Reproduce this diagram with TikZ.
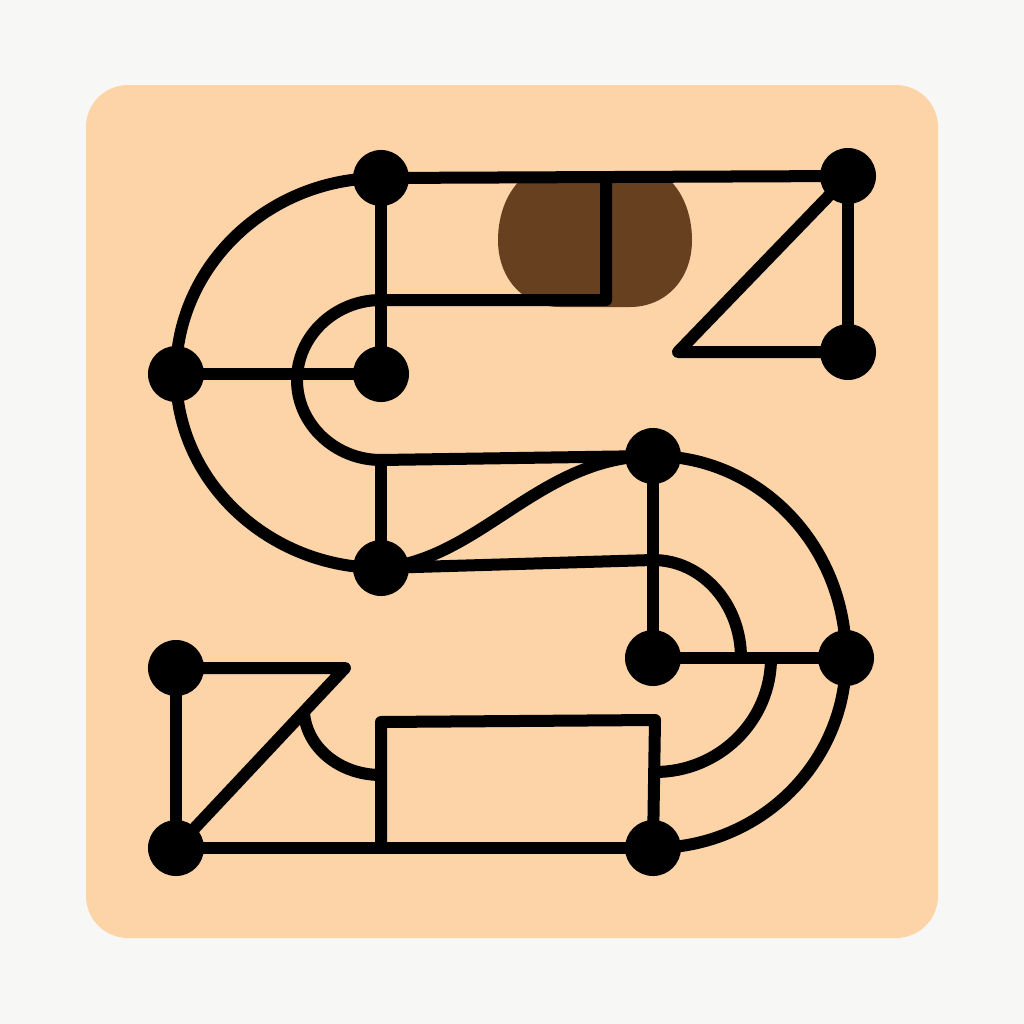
\documentclass[tikz,border=0pt]{standalone}
\usetikzlibrary{backgrounds}
\definecolor{bgc}{HTML}{F7F8F6}
\definecolor{peach}{HTML}{FDD4A8}
\definecolor{brownc}{HTML}{66401F}
\tikzset{
  dot/.style={circle, fill=black, minimum size=0.56cm, inner sep=0pt},
  wire/.style={draw=black, line width=0.12cm, line cap=round, line join=round},
}
\begin{document}
\begin{tikzpicture}[x=0.01cm, y=-0.01cm]
\useasboundingbox (0,0) rectangle (1024,1024);
% dots
\node[dot] (A) at (381,178) {};
\node[dot] (B) at (848,176) {};
\node[dot] (C) at (176,374) {};
\node[dot] (D) at (381,374) {};
\node[dot] (E) at (848,352) {};
\node[dot] (F) at (653,456) {};
\node[dot] (G) at (381,568) {};
\node[dot] (H) at (176,668) {};
\node[dot] (I) at (653,658) {};
\node[dot] (J) at (846,658) {};
\node[dot] (K) at (176,848) {};
\node[dot] (L) at (653,848) {};
% free corners
\coordinate (t1) at (678,352);
\coordinate (t2) at (345,668);
\coordinate (p1) at (606,178);
\coordinate (p2) at (606,300);
\coordinate (q) at (381,460);
\coordinate (r1) at (381,722);
\coordinate (r2) at (655,720);
\coordinate (r3) at (381,848);
\coordinate (s1) at (304,713);
\coordinate (s2) at (381,775);
\coordinate (u1) at (771,658);
\coordinate (u2) at (655,772);
\coordinate (v0) at (653,560);
\coordinate (v1) at (741,658);
\begin{scope}[on background layer]
  \fill[bgc] (0,0) rectangle (1024,1024);
  \fill[peach, rounded corners=0.42cm] (86,85) rectangle (938,938);
  \fill[brownc] (525,176) -- (665,176) .. controls (683,190) and (692,215) .. (692,240)
     .. controls (692,280) and (665,307) .. (630,307) -- (560,307)
     .. controls (525,307) and (498,280) .. (498,240)
     .. controls (498,215) and (507,190) .. (525,176) -- cycle;
  % top left
  \draw[wire] (A.center) -- (B.center);
  \draw[wire] (A.center) .. controls (268,178) and (176,266) .. (C.center);
  \draw[wire] (C.center) .. controls (176,481) and (268,568) .. (G.center);
  \draw[wire] (A.center) -- (D.center);
  \draw[wire] (C.center) -- (D.center);
  % inner loop
  \draw[wire] (p1) -- (p2) -- (381,300) .. controls (335,300) and (297,336) .. (297,380)
     .. controls (297,424) and (335,460) .. (q) -- (F.center);
  \draw[wire] (q) -- (G.center);
  % top right triangle
  \draw[wire] (B.center) -- (E.center);
  \draw[wire] (B.center) -- (t1) -- (E.center);
  % middle
  \draw[wire] (G.center) .. controls (480,560) and (540,456) .. (F.center);
  \draw[wire] (G.center) -- (v0) .. controls (702,560) and (741,604) .. (v1);
  \draw[wire] (F.center) -- (I.center);
  \draw[wire] (F.center) .. controls (760,456) and (846,546) .. (J.center);
  \draw[wire] (J.center) .. controls (846,763) and (760,848) .. (L.center);
  \draw[wire] (I.center) -- (J.center);
  \draw[wire] (u1) .. controls (771,721) and (719,772) .. (u2);
  % bottom
  \draw[wire] (r3) -- (r1) -- (r2) -- (L.center);
  \draw[wire] (K.center) -- (L.center);
  \draw[wire] (H.center) -- (K.center);
  \draw[wire] (H.center) -- (t2) -- (K.center);
  \draw[wire] (s1) .. controls (307,748) and (340,775) .. (s2);
\end{scope}
\end{tikzpicture}
\end{document}
